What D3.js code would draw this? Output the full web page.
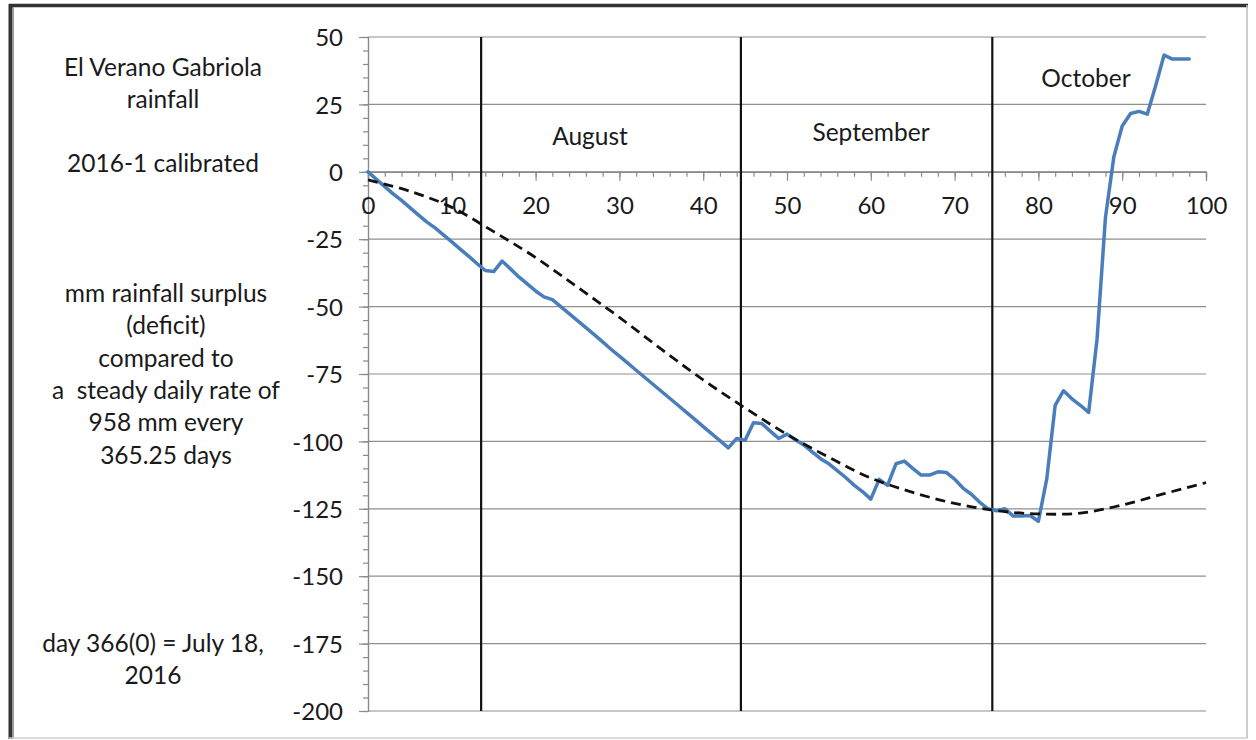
<!DOCTYPE html>
<html>
<head>
<meta charset="utf-8">
<script src="https://cdn.jsdelivr.net/npm/d3@7"></script>
<style>
  html, body { margin: 0; padding: 0; background: #fff; }
  svg { display: block; }
  text { font-family: Lato, "Noto Sans", sans-serif; fill: #1a1a1a; }
</style>
</head>
<body>
<svg id="chart" width="1256" height="740"></svg>
<script>
// ---------- DATA ----------
// cumulative mm rainfall surplus (deficit), day 0 .. 98
const rainfallSurplus = [
  0, -2.8, -5.5, -8.2, -10.6, -13.3, -16.0, -18.6, -20.8, -23.4,
  -26.0, -28.7, -31.3, -34.0, -36.6, -37.0, -33.1, -36.0, -39.0, -41.6,
  -44.2, -46.4, -47.4, -50.0, -52.6, -55.2, -57.8, -60.4, -63.1, -65.8,
  -68.4, -71.0, -73.6, -76.2, -78.8, -81.4, -84.0, -86.6, -89.2, -91.8,
  -94.5, -97.1, -99.7, -102.4, -98.9, -99.6, -93.1, -93.4, -96.2, -98.9,
  -97.3, -99.4, -101.3, -103.9, -106.4, -108.3, -110.8, -113.4, -116.2, -118.6,
  -121.4, -114.1, -116.3, -108.3, -107.3, -110.0, -112.5, -112.5, -111.3, -111.5,
  -114.0, -117.3, -119.6, -122.6, -125.0, -125.7, -125.0, -127.7, -127.7, -127.5,
  -129.6, -113.9, -86.6, -81.2, -84.2, -86.6, -89.2, -62.0, -17.0, 5.5,
  17.0, 21.6, 22.4, 21.4, 32.0, 43.3, 41.8, 41.8, 41.8
];
const rainfallDays = d3.range(rainfallSurplus.length);

// dashed trend curve
const trendDays   = [0, 5, 10, 15, 20, 25, 30, 35, 40, 45, 50, 55, 60, 65, 70, 75, 80, 85, 90, 95, 100];
const trendValues = [-3.0, -7.2, -13.2, -22.2, -31.8, -42.8, -54.0, -65.8, -77.2, -87.6,
                     -97.4, -105.9, -113.6, -118.9, -123.0, -125.7, -126.9, -126.6, -123.6, -119.4, -115.3];

// month boundaries (day numbers) and names
const monthBoundaries = [13.5, 44.5, 74.5];
const monthNames = ["August", "September", "October"];

// axis ticks
const xTicks = [0, 10, 20, 30, 40, 50, 60, 70, 80, 90, 100];
const yTicks = [50, 25, 0, -25, -50, -75, -100, -125, -150, -175, -200];

// side text
const titleLines = ["El Verano Gabriola", "rainfall", "", "2016-1 calibrated"];
const descLines  = ["mm rainfall surplus", "(deficit)", "compared to", "a\u00a0 steady daily rate of", "958 mm every", "365.25 days"];
const noteLines  = ["day 366(0) = July 18,", "2016"];

// ---------- LAYOUT ----------
const svg = d3.select("#chart");
const W = 1256, H = 740;
const plot = { left: 368, right: 1206, top: 37, bottom: 711 };

const x = d3.scaleLinear().domain([0, 100]).range([plot.left, plot.right]);
const y = d3.scaleLinear().domain([-200, 50]).range([plot.bottom, plot.top]);

svg.append("rect").attr("width", W).attr("height", H).attr("fill", "#fff");

// frame
svg.append("line").attr("x1", 9).attr("x2", 1248).attr("y1", 5.5).attr("y2", 5.5)
  .attr("stroke", "#333").attr("stroke-width", 3.5);
svg.append("line").attr("x1", 10.5).attr("x2", 10.5).attr("y1", 4).attr("y2", 739)
  .attr("stroke", "#333").attr("stroke-width", 4);
svg.append("line").attr("x1", 13.5).attr("x2", 13.5).attr("y1", 7).attr("y2", 739)
  .attr("stroke", "#9a9a9a").attr("stroke-width", 1);
svg.append("line").attr("x1", 1247).attr("x2", 1247).attr("y1", 5).attr("y2", 738)
  .attr("stroke", "#bdbdbd").attr("stroke-width", 1.5);
svg.append("line").attr("x1", 9).attr("x2", 1248).attr("y1", 738).attr("y2", 738)
  .attr("stroke", "#cfcfcf").attr("stroke-width", 1.5);

// horizontal gridlines
svg.append("g").selectAll("line").data(yTicks).join("line")
  .attr("x1", plot.left).attr("x2", plot.right)
  .attr("y1", d => y(d)).attr("y2", d => y(d))
  .attr("stroke", "#8f8f8f").attr("stroke-width", 1.2);

// y axis (major + minor ticks)
const yMinor = d3.range(-200, 50.1, 5);
const gyMinor = svg.append("g").attr("transform", `translate(${plot.left},0)`)
  .call(d3.axisLeft(y).tickValues(yMinor).tickSize(5).tickFormat(""));
const gy = svg.append("g").attr("transform", `translate(${plot.left},0)`)
  .call(d3.axisLeft(y).tickValues(yTicks).tickSize(9).tickPadding(16).tickFormat(d3.format("d")));
[gyMinor, gy].forEach(g => {
  g.selectAll("path,line").attr("stroke", "#8a8a8a").attr("stroke-width", 1.2);
});
gy.selectAll("text").attr("font-family", "Lato").attr("font-size", 24).attr("fill", "#1a1a1a")
  .attr("dy", "0.36em").text(d => d < 0 ? "-" + Math.abs(d) : d);

// x axis at y=0
const xMinor = d3.range(0, 100.1, 2);
const gxMinor = svg.append("g").attr("transform", `translate(0,${y(0)})`)
  .call(d3.axisBottom(x).tickValues(xMinor).tickSize(5).tickFormat(""));
const gx = svg.append("g").attr("transform", `translate(0,${y(0)})`)
  .call(d3.axisBottom(x).tickValues(xTicks).tickSize(9).tickPadding(16).tickFormat(d3.format("d")));
[gxMinor, gx].forEach(g => {
  g.selectAll("path,line").attr("stroke", "#8a8a8a").attr("stroke-width", 1.2);
});
gx.selectAll("text").attr("font-family", "Lato").attr("font-size", 24).attr("fill", "#1a1a1a");

// month boundary lines
svg.append("g").selectAll("line").data(monthBoundaries).join("line")
  .attr("x1", d => x(d)).attr("x2", d => x(d))
  .attr("y1", y(50)).attr("y2", y(-200))
  .attr("stroke", "#111").attr("stroke-width", 2.2);

// month labels
const monthLabelPos = [{ cx: 590, by: 145 }, { cx: 871, by: 141 }, { cx: 1086, by: 87 }];
svg.append("g").selectAll("text").data(monthNames).join("text")
  .attr("x", (d, i) => monthLabelPos[i].cx).attr("y", (d, i) => monthLabelPos[i].by)
  .attr("text-anchor", "middle").attr("font-size", 24.5).text(d => d);

// rainfall line
const line = d3.line().x(d => x(d[0])).y(d => y(d[1]));
svg.append("path")
  .datum(rainfallDays.map((d, i) => [d, rainfallSurplus[i]]))
  .attr("d", line).attr("fill", "none")
  .attr("stroke", "#4A7EBB").attr("stroke-width", 3.5)
  .attr("stroke-linejoin", "round").attr("stroke-linecap", "round");

// trend line
const trendLine = d3.line().curve(d3.curveCatmullRom).x(d => x(d[0])).y(d => y(d[1]));
svg.append("path")
  .datum(trendDays.map((d, i) => [d, trendValues[i]]))
  .attr("d", trendLine).attr("fill", "none")
  .attr("stroke", "#111").attr("stroke-width", 2.8)
  .attr("stroke-dasharray", "10,6");

// side text
function textBlock(lines, cx, firstBaseline, step, size) {
  svg.append("g").selectAll("text").data(lines).join("text")
    .attr("x", cx).attr("y", (d, i) => firstBaseline + i * step)
    .attr("text-anchor", "middle").attr("font-size", size)
    .text(d => d);
}
textBlock(titleLines, 163, 76, 32, 24.5);
textBlock(descLines, 166, 302, 32.3, 24.5);
textBlock(noteLines, 153, 652, 32.3, 24.5);
</script>
</body>
</html>
